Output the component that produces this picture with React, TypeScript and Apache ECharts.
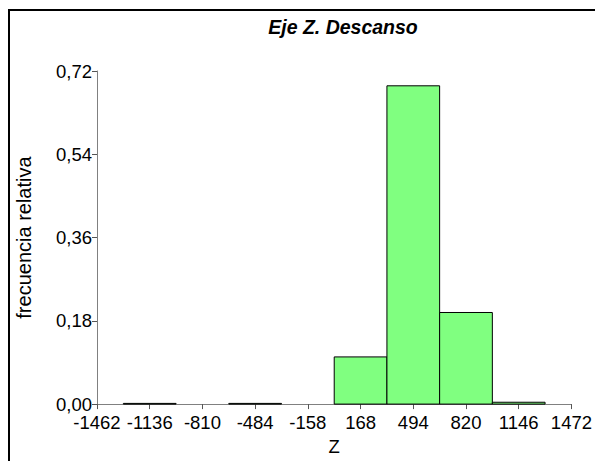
import React, { useEffect, useRef } from "react";
import * as echarts from "echarts";

// Histogram data: bin centres (Z) and relative frequencies
const binCenters = [-1136, -484, 168, 494, 820, 1146];
const relFreq = [0.0015, 0.0015, 0.102, 0.688, 0.198, 0.004];
const binWidth = 326;
const xMin = -1462;
const xMax = 1472;
const yTicksMax = 0.72;
const yInterval = 0.18;

const FONT = "'Liberation Sans', Arial, sans-serif";

export default function App() {
  const ref = useRef<HTMLDivElement>(null);
  useEffect(() => {
    if (!ref.current) return;
    const chart = echarts.init(ref.current, null, { renderer: "svg" });
    const data = binCenters.map((c, i) => [c - xMin, relFreq[i]]);
    chart.setOption({
      animation: false,
      backgroundColor: "#fff",
      title: {
        text: "Eje Z. Descanso",
        left: 338,
        top: 12,
        textAlign: "center",
        textStyle: {
          fontFamily: FONT,
          fontSize: 19.5,
          fontWeight: "bold",
          fontStyle: "italic",
          color: "#000",
        },
      },
      graphic: [
        {
          type: "rect",
          shape: { x: 9, y: 10, width: 1000, height: 1000 },
          style: { fill: "none", stroke: "#000", lineWidth: 2 },
          silent: true,
        },
      ],
      grid: { left: 97, right: 18, top: 71, bottom: 56, containLabel: false },
      xAxis: {
        type: "value",
        min: 0,
        max: xMax - xMin,
        interval: binWidth,
        name: "Z",
        nameLocation: "middle",
        nameGap: 32,
        nameTextStyle: { fontFamily: FONT, fontSize: 18.5, color: "#000" },
        splitLine: { show: false },
        axisLine: { show: true, lineStyle: { color: "#808080", width: 1 } },
        axisTick: { show: true, length: 5, lineStyle: { color: "#555" } },
        axisLabel: {
          margin: 9,
          fontFamily: FONT,
          fontSize: 18.5,
          color: "#000",
          formatter: (v: number) => String(Math.round(v + xMin)),
        },
      },
      yAxis: {
        type: "value",
        min: 0,
        max: yTicksMax,
        interval: yInterval,
        name: "frecuencia relativa",
        nameLocation: "middle",
        nameGap: 63,
        nameRotate: 90,
        nameTextStyle: { fontFamily: FONT, fontSize: 20, color: "#000" },
        splitLine: { show: false },
        axisLine: { show: true, lineStyle: { color: "#808080", width: 1 } },
        axisTick: { show: true, length: 5, lineStyle: { color: "#555" } },
        axisLabel: {
          margin: 5,
          fontFamily: FONT,
          fontSize: 18.5,
          color: "#000",
          formatter: (v: number) => v.toFixed(2).replace(".", ","),
        },
      },
      series: [
        {
          type: "custom",
          data,
          encode: { x: 0, y: 1 },
          renderItem: (params: any, api: any) => {
            const c = api.value(0);
            const v = api.value(1);
            const p0 = api.coord([c - binWidth / 2, v]);
            const p1 = api.coord([c + binWidth / 2, 0]);
            return {
              type: "rect",
              shape: {
                x: p0[0],
                y: p0[1],
                width: p1[0] - p0[0],
                height: p1[1] - p0[1],
              },
              style: { fill: "#80FF80", stroke: "#000", lineWidth: 1 },
            };
          },
        },
      ],
    });
    return () => chart.dispose();
  }, []);
  return (
    <div
      ref={ref}
      style={{ position: "absolute", left: 0, top: 0, width: 595, height: 461 }}
    />
  );
}
